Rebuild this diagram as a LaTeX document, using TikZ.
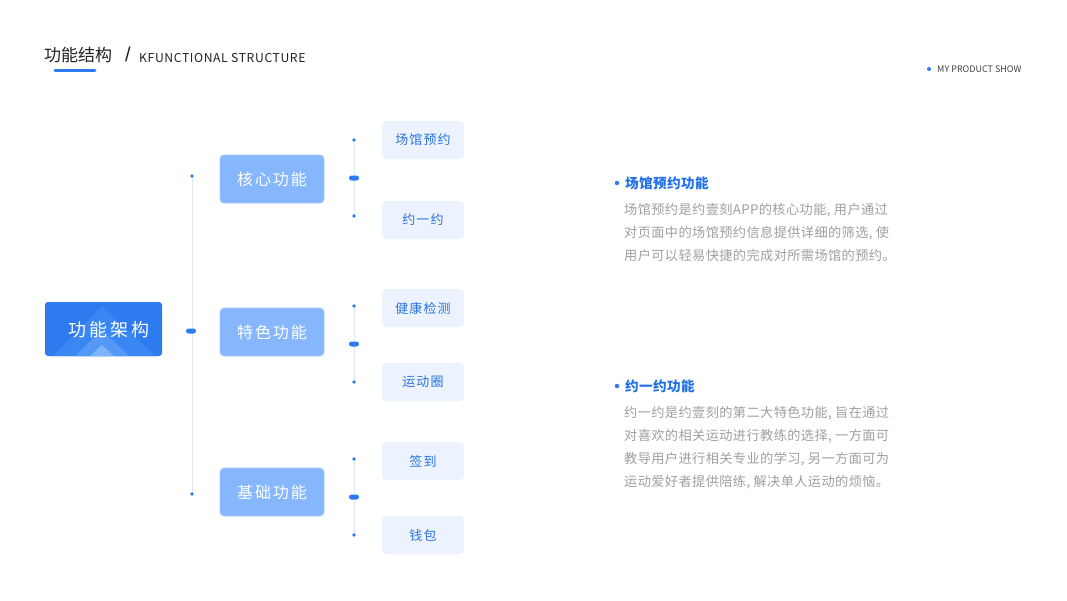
\documentclass[tikz,border=0pt]{standalone}
\usetikzlibrary{shapes.geometric,calc}
\usepackage{fontspec}
\setmainfont{Noto Sans CJK SC}
\newfontfamily\rootfont{Noto Sans CJK SC}[LetterSpace=15]
\newfontfamily\lonefont{Noto Sans CJK SC}[LetterSpace=12]
\newfontfamily\ltwofont{Noto Sans CJK SC}[LetterSpace=8]
\newfontfamily\subfont{Noto Sans CJK SC}[LetterSpace=5]
\newfontfamily\bodyfont{Noto Sans CJK SC}[LetterSpace=3]
\newfontfamily\latinfont{Liberation Sans}
\definecolor{mainblue}{HTML}{2E7BEF}
\definecolor{tri1}{HTML}{3A87F4}
\definecolor{tri2}{HTML}{5599F7}
\definecolor{tri3}{HTML}{80B3FB}
\definecolor{lonefill}{HTML}{86B6FB}
\definecolor{loneborder}{HTML}{A6CAFC}
\definecolor{ltwofill}{HTML}{ECF3FE}
\definecolor{ltwotext}{HTML}{2A74E0}
\definecolor{linecol}{HTML}{DCE8FB}
\definecolor{headblue}{HTML}{1E6FE8}
\definecolor{bodygrey}{HTML}{A0A0A0}
\definecolor{titledark}{HTML}{222222}
\begin{document}
\begin{tikzpicture}[x=1pt,y=-1pt,
  rootbox/.style={fill=mainblue,rounded corners=3pt,minimum width=117pt,minimum height=54pt,inner sep=0pt},
  lonebox/.style={fill=lonefill,draw=loneborder,line width=0.8pt,rounded corners=4pt,minimum width=104pt,minimum height=48pt,inner sep=0pt,text=white,font=\lonefont\fontsize{16}{18}\selectfont},
  ltwobox/.style={fill=ltwofill,rounded corners=4pt,minimum width=82pt,minimum height=38pt,inner sep=0pt,text=ltwotext,font=\ltwofont\fontsize{13}{15}\selectfont},
  trunk/.style={draw=linecol,line width=0.9pt},
  tick/.style={fill=mainblue,diamond,inner sep=0pt,minimum size=4pt},
  pill/.style={fill=mainblue,rounded corners=2.5pt,minimum width=10pt,minimum height=5pt,inner sep=0pt},
  bullet/.style={fill=mainblue,circle,inner sep=0pt,minimum size=4.5pt},
  head/.style={anchor=west,inner sep=0pt,text=headblue,font=\bodyfont\bfseries\fontsize{13.6}{16}\selectfont},
  body/.style={anchor=north west,inner sep=0pt,text=bodygrey,align=left,font=\bodyfont\fontsize{13.2}{23}\selectfont}
]
\useasboundingbox[fill=white] (0,0) rectangle (1067,600);

% header
\node[anchor=west,inner sep=0pt,text=titledark,font=\fontsize{17}{20}\selectfont] (title) at (44,55) {功能结构};
\draw[mainblue,line width=3pt,line cap=round] (55,70) -- (95,70);
\node[inner sep=0pt,text=titledark,font=\latinfont\fontsize{20}{22}\selectfont] (slash) at (128,54) {/};
\node[anchor=west,inner sep=0pt,text=titledark,font=\subfont\fontsize{12.2}{14}\selectfont] (sub) at (139,58) {KFUNCTIONAL STRUCTURE};
\node[bullet,minimum size=4pt] (mydot) at (929,69) {};
\node[anchor=west,inner sep=0pt,text=titledark!85,font=\fontsize{9}{11}\selectfont] (mps) at (937,69) {MY PRODUCT SHOW};

% root box with chevrons
\node[rootbox] (root) at (103.5,329) {};
\begin{scope}
\clip[rounded corners=3pt] (root.north west) rectangle (root.south east);
\fill[tri1] (53,356) -- (102,306) -- (155,356) -- cycle;
\fill[tri2] (75,356) -- (102,330) -- (129,356) -- cycle;
\fill[tri3] (90,356) -- (102,345) -- (114,356) -- cycle;
\end{scope}
\node[text=white,font=\rootfont\fontsize{18}{20}\selectfont,inner sep=0pt] (roottext) at (109,330) {功能架构};

% trunk
\coordinate (t1) at (192,176);
\coordinate (t3) at (192,494);
\draw[trunk] (t1) -- (t3);
\node[tick] (tk1) at (t1) {};
\node[tick] (tk3) at (t3) {};
\node[pill] (tp) at (191,331) {};

% level 1
\node[lonebox] (la) at (272,179) {核心功能};
\node[lonebox] (lb) at (272,332) {特色功能};
\node[lonebox] (lc) at (272,492) {基础功能};

% level 2 branches
\foreach \top/\bot/\nm in {140/216/ga,306/382/gb,459/535/gc}{
  \coordinate (\nm t) at (354,\top);
  \coordinate (\nm b) at (354,\bot);
  \draw[trunk] (\nm t) -- (\nm b);
  \node[tick] at (\nm t) {};
  \node[tick] at (\nm b) {};
  \node[pill] at ($(\nm t)!0.5!(\nm b)$) {};
}

\node[ltwobox] (a1) at (423,140) {场馆预约};
\node[ltwobox] (a2) at (423,220) {约一约};
\node[ltwobox] (b1) at (423,308) {健康检测};
\node[ltwobox] (b2) at (423,382) {运动圈};
\node[ltwobox] (c1) at (423,461) {签到};
\node[ltwobox] (c2) at (423,535) {钱包};

% right text
\node[bullet] (bu1) at (617,183) {};
\node[head] (h1) at (625,183) {场馆预约功能};
\node[body] (p1) at (624,203) {场馆预约是约壹刻APP的核心功能, 用户通过\\对页面中的场馆预约信息提供详细的筛选, 使\\用户可以轻易快捷的完成对所需场馆的预约。};

\node[bullet] (bu2) at (617,386) {};
\node[head] (h2) at (625,386) {约一约功能};
\node[body] (p2) at (624,406) {约一约是约壹刻的第二大特色功能, 旨在通过\\对喜欢的相关运动进行教练的选择, 一方面可\\教导用户进行相关专业的学习, 另一方面可为\\运动爱好者提供陪练, 解决单人运动的烦恼。};
\end{tikzpicture}
\end{document}
